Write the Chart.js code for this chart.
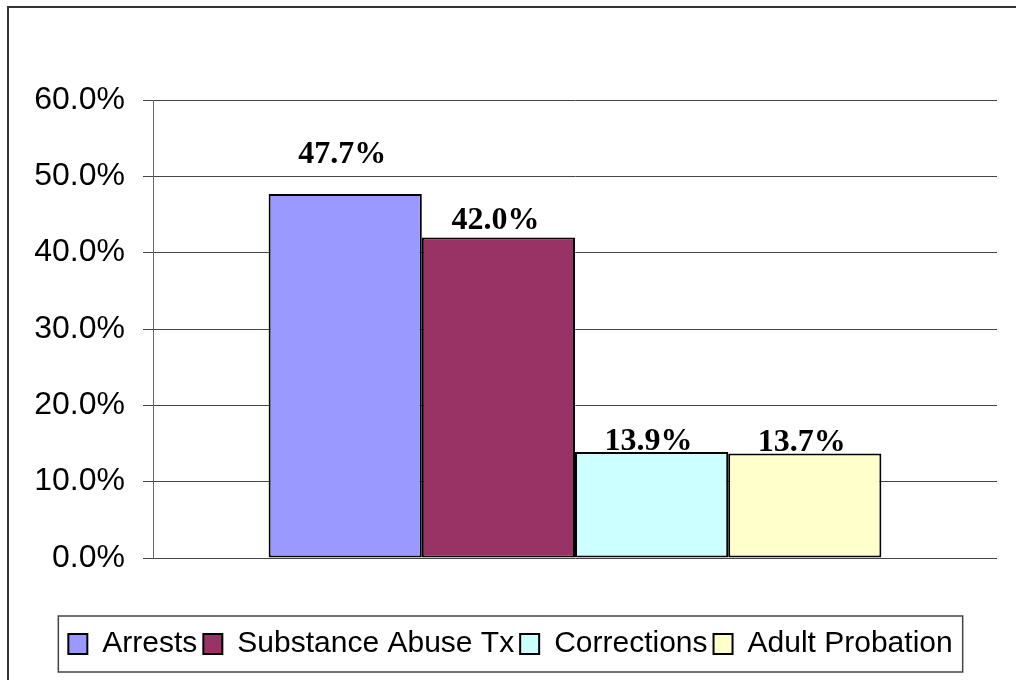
<!DOCTYPE html>
<html>
<head>
<meta charset="utf-8">
<script src="https://cdn.jsdelivr.net/npm/chart.js@4"></script>
<style>
  html, body { margin: 0; padding: 0; background: #fff; }
  #wrap { width: 1016px; height: 680px; }
</style>
</head>
<body>
<div id="wrap"><canvas id="barChart" width="1016" height="680"></canvas></div>
<script>
// data
const seriesNames = ["Arrests", "Substance Abuse Tx", "Corrections", "Adult Probation"];
const seriesValues = [47.7, 42.0, 13.9, 13.7];
const seriesColors = ["#9999FF", "#993366", "#CCFFFF", "#FFFFCC"];
const categories = [""];
const yTicks = [0, 10, 20, 30, 40, 50, 60];

const sansFont = "'Liberation Sans', Arial, sans-serif";
const serifFont = "'Liberation Serif', 'Times New Roman', serif";

// outer frame + legend box
const framePlugin = {
  id: "frame",
  beforeDraw(chart) {
    const ctx = chart.ctx;
    ctx.save();
    ctx.fillStyle = "#fff";
    ctx.fillRect(0, 0, chart.width, chart.height);
    ctx.strokeStyle = "#333";
    ctx.lineWidth = 2;
    ctx.strokeRect(8, 7, chart.width + 50, chart.height + 50);
    ctx.restore();
  },
  afterDraw(chart) {
    const boxes = chart.legend.legendHitBoxes;
    if (!boxes || !boxes.length) return;
    const left = Math.min(...boxes.map(b => b.left));
    const right = Math.max(...boxes.map(b => b.left + b.width));
    const top = Math.min(...boxes.map(b => b.top));
    const bottom = Math.max(...boxes.map(b => b.top + b.height));
    const ctx = chart.ctx;
    ctx.save();
    ctx.strokeStyle = "#444";
    ctx.lineWidth = 1.5;
    ctx.strokeRect(left - 10, top - 13, right - left + 20, bottom - top + 26);
    ctx.restore();
  }
};

// value labels above bars
const valueLabels = {
  id: "valueLabels",
  afterDatasetsDraw(chart, args, opts) {
    const ctx = chart.ctx;
    ctx.save();
    ctx.font = "bold 32px " + serifFont;
    ctx.fillStyle = "#000";
    ctx.textAlign = "center";
    ctx.textBaseline = "alphabetic";
    chart.data.datasets.forEach((ds, i) => {
      const meta = chart.getDatasetMeta(i);
      meta.data.forEach((bar, j) => {
        const lift = opts.lift[i] || 3;
        ctx.fillText(ds.data[j].toFixed(1) + "%", bar.x - 3, bar.y - lift);
      });
    });
    ctx.restore();
  }
};

const barCtx = document.getElementById("barChart");

new Chart(barCtx, {
  type: "bar",
  data: {
    labels: categories,
    datasets: seriesNames.map((name, i) => ({
      label: name,
      data: [seriesValues[i]],
      backgroundColor: seriesColors[i],
      borderColor: "#000",
      borderWidth: 2,
      borderSkipped: false,
      categoryPercentage: 0.726,
      barPercentage: 1,
    })),
  },
  options: {
    responsive: false,
    animation: false,
    layout: {
      padding: { top: 100, right: 19, left: 24, bottom: 11 },
    },
    scales: {
      x: {
        grid: { display: false },
        border: { display: false },
        ticks: { display: false },
        afterFit: (scale) => { scale.height = 65; },
      },
      y: {
        min: 0,
        max: 60,
        afterBuildTicks: (scale) => { scale.ticks = yTicks.map(v => ({ value: v })); },
        afterFit: (scale) => { scale.width = 129; },
        grid: {
          color: "#444",
          lineWidth: 1,
          tickLength: 10,
          tickColor: "#444",
        },
        border: { display: true, color: "#666", width: 1 },
        ticks: {
          padding: 18,
          color: "#000",
          font: { family: sansFont, size: 32 },
          callback: (v) => v.toFixed(1) + "%",
        },
      },
    },
    plugins: {
      legend: {
        position: "bottom",
        labels: {
          color: "#000",
          font: { family: sansFont, size: 30 },
          boxWidth: 19,
          boxHeight: 20,
          padding: 6,
        },
      },
      tooltip: { enabled: false },
      valueLabels: { lift: [31, 8, 2, 2] },
    },
  },
  plugins: [framePlugin, valueLabels],
});
</script>
</body>
</html>
